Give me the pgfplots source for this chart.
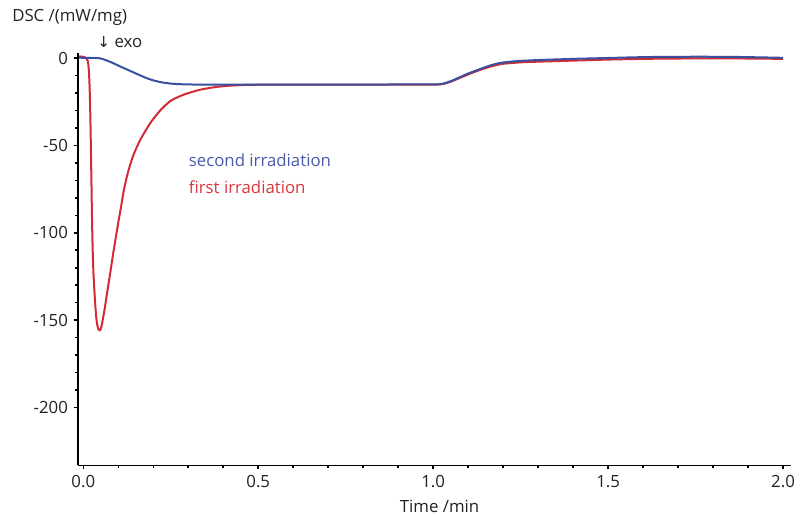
\documentclass[border=0pt]{standalone}
\usepackage{pgfplots}
\pgfplotsset{compat=1.18}
\usepackage{fontspec}
\setmainfont{Open Sans}
\newfontfamily\arrowfont{DejaVu Sans}
\definecolor{cblue}{HTML}{3A4F9E}
\definecolor{cred}{HTML}{D22B35}
\definecolor{lblue}{HTML}{4A5AA8}
\definecolor{lred}{HTML}{D9363E}
\definecolor{txt}{HTML}{222222}
\begin{document}
\fontsize{12.6pt}{15pt}\selectfont
\begin{tikzpicture}
\begin{axis}[name=ax, scale only axis, width=534.75pt, height=309.4pt,
  xmin=-0.016, xmax=2.022, ymin=-233.2, ymax=3,
  axis lines=left, axis line style={-, line width=1.4pt, black},
  tick align=outside, major tick length=3pt, minor tick length=2pt,
  tick style={line width=1.2pt, black},
  xtick={0,0.5,1,1.5,2}, minor x tick num=4,
  ytick={-200,-150,-100,-50,0}, minor y tick num=4,
  /pgf/number format/assume math mode=true,
  xticklabel style={/pgf/number format/fixed, /pgf/number format/fixed zerofill, /pgf/number format/precision=1},
  ticklabel style={font=\fontsize{12.6pt}{15pt}\selectfont, text=txt},
  clip=false,
]
\addplot[cred, line width=1.5pt, smooth, tension=0.4] coordinates {
(-0.012,1.0) (0.000,0.8) (0.006,0.3) (0.010,-0.5) (0.0125,-1.5) (0.0145,-4) (0.016,-8)
(0.0175,-14) (0.019,-24) (0.0205,-38) (0.022,-56) (0.0235,-75) (0.0248,-92) (0.0265,-108)
(0.0285,-121) (0.031,-131) (0.034,-141) (0.037,-148.5) (0.040,-153) (0.0435,-155.3)
(0.0467,-155.8) (0.050,-155) (0.054,-151.5) (0.058,-147) (0.062,-142.3) (0.069,-133)
(0.0768,-123.1) (0.084,-113.5) (0.0917,-104) (0.100,-94) (0.108,-84.9) (0.1156,-75.8)
(0.127,-65.8) (0.1425,-55.8) (0.1634,-46.5) (0.192,-37.0) (0.2207,-29.7) (0.249,-24.5)
(0.278,-21.6) (0.30,-20.0) (0.335,-18.0) (0.383,-16.4) (0.43,-15.6) (0.50,-15.2)
(0.70,-15.1) (0.90,-15.1) (1.00,-15.1) (1.025,-14.9) (1.05,-13.5)
(1.10,-9.3) (1.14,-6.3) (1.17,-4.5) (1.20,-3.2) (1.25,-2.4) (1.30,-2.0) (1.40,-1.4)
(1.50,-0.8) (1.60,-0.4) (1.70,-0.2) (1.80,-0.1) (1.90,-0.2) (2.00,-0.4)
};
\addplot[cblue, line width=1.5pt, smooth, tension=0.4] coordinates {
(-0.012,0.3) (0.000,0.2) (0.044,0.0) (0.055,-0.5) (0.068,-1.4) (0.087,-3.0) (0.106,-4.8)
(0.125,-6.5) (0.144,-8.2) (0.163,-9.9) (0.182,-11.5) (0.20,-12.7) (0.22,-13.7)
(0.24,-14.3) (0.258,-14.7) (0.29,-15.0) (0.33,-15.1) (0.50,-15.2) (0.80,-15.1)
(1.00,-15.0) (1.025,-14.7) (1.05,-13.2)
(1.10,-8.8) (1.14,-5.8) (1.166,-4.0) (1.195,-2.6) (1.24,-1.7) (1.29,-1.15) (1.40,-0.4)
(1.48,0.0) (1.60,0.6) (1.70,0.8) (1.82,0.8) (1.90,0.6) (2.00,0.2)
};
\node[anchor=west, inner sep=0, text=lblue] at (axis cs:0.301,-58.6) {second irradiation};
\node[anchor=west, inner sep=0, text=lred] at (axis cs:0.301,-74.1) {first irradiation};
\end{axis}
\node[anchor=west, inner sep=0, text=txt] at ([xshift=-49.3pt, yshift=26.3pt]ax.north west) {DSC /(mW/mg)};
\node[anchor=west, inner sep=0, text=txt] at ([xshift=14.5pt, yshift=8.3pt]ax.north west) {{\arrowfont\fontsize{11.5pt}{13pt}\selectfont ↓} exo};
\node[anchor=center, inner sep=0, text=txt] at ([xshift=4pt, yshift=-31pt]ax.south) {Time /min};
\pgfresetboundingbox
\path[use as bounding box] ([xshift=-58.3pt, yshift=-37.1pt]ax.south west) rectangle ([xshift=546.2pt, yshift=349.1pt]ax.south west);
\end{tikzpicture}
\end{document}
